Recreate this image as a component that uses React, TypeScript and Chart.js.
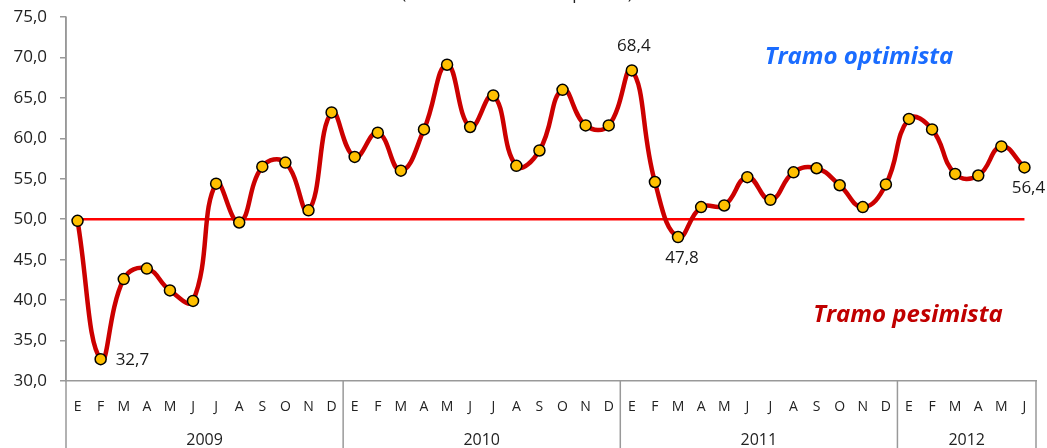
import React, { useEffect, useRef } from "react";
import { Chart, registerables } from "chart.js";

Chart.register(...registerables);

const months = ["E", "F", "M", "A", "M", "J", "J", "A", "S", "O", "N", "D"];
const years = ["2009", "2010", "2011", "2012"];
const monthsPerYear = [12, 12, 12, 6];

const values2009 = [49.8, 32.7, 42.6, 43.9, 41.2, 39.9, 54.4, 49.6, 56.5, 57.0, 51.1, 63.2];
const values2010 = [57.7, 60.7, 56.0, 61.1, 69.1, 61.4, 65.3, 56.6, 58.5, 66.0, 61.6, 61.6];
const values2011 = [68.4, 54.6, 47.8, 51.5, 51.7, 55.2, 52.4, 55.8, 56.3, 54.2, 51.5, 54.3];
const values2012 = [62.4, 61.1, 55.6, 55.4, 59.0, 56.4];

const threshold = 50;
const yMin = 30;
const yMax = 75;
const yStep = 5;

const labeledIndices = [1, 24, 26, 41];
const labeledSides = ["right", "top", "bottom", "bottom"];

const titleText = "(valores del índice en puntos)";
const optimistText = "Tramo optimista";
const pessimistText = "Tramo pesimista";

const FONT = "'Open Sans', sans-serif";

const categoryLabels: string[] = [];
monthsPerYear.forEach((n) => {
  for (let i = 0; i < n; i++) categoryLabels.push(months[i]);
});
const seriesValues = [...values2009, ...values2010, ...values2011, ...values2012];
const thresholdValues = seriesValues.map(() => threshold);

const fmt = (v: number) => v.toFixed(1).replace(".", ",");

const decorPlugin = {
  id: "decor",
  afterDraw(chart: any) {
    const ctx = chart.ctx;
    const area = chart.chartArea;
    const xs = chart.scales.x;
    const ys = chart.scales.y;
    const H = chart.height;
    ctx.save();
    ctx.strokeStyle = "#999999";
    ctx.lineWidth = 1.5;
    const bounds: number[] = [area.left];
    let idx = 0;
    monthsPerYear.forEach((n, i) => {
      idx += n;
      if (i < monthsPerYear.length - 1) {
        bounds.push((xs.getPixelForValue(idx - 1) + xs.getPixelForValue(idx)) / 2);
      }
    });
    bounds.push(area.right);
    bounds.forEach((bx, i) => {
      ctx.beginPath();
      ctx.moveTo(bx, i === 0 ? area.top : area.bottom);
      ctx.lineTo(bx, H);
      ctx.stroke();
    });
    ctx.fillStyle = "#222222";
    ctx.font = `16px ${FONT}`;
    ctx.textAlign = "center";
    ctx.textBaseline = "middle";
    years.forEach((y, i) => {
      ctx.fillText(y, (bounds[i] + bounds[i + 1]) / 2, 440);
    });
    ctx.font = `17px ${FONT}`;
    ctx.textBaseline = "alphabetic";
    ctx.fillText(titleText, 517, -1);
    ctx.fillStyle = "#1a1a1a";
    labeledIndices.forEach((i, k) => {
      const px = xs.getPixelForValue(i);
      const py = ys.getPixelForValue(seriesValues[i]);
      const side = labeledSides[k];
      const t = fmt(seriesValues[i]);
      ctx.textBaseline = "middle";
      if (side === "right") {
        ctx.textAlign = "left";
        ctx.fillText(t, px + 15, py + 1);
      } else if (side === "top") {
        ctx.textAlign = "center";
        ctx.fillText(t, px + 2, py - 24);
      } else {
        ctx.textAlign = "center";
        ctx.fillText(t, px + 4, py + 21);
      }
    });
    ctx.font = `italic bold 24px ${FONT}`;
    ctx.textAlign = "center";
    ctx.textBaseline = "middle";
    ctx.fillStyle = "#1a6cff";
    ctx.fillText(optimistText, 859, 57);
    ctx.fillStyle = "#c00000";
    ctx.fillText(pessimistText, 908, 315);
    ctx.restore();
  },
};

export default function App() {
  const ref = useRef<HTMLCanvasElement | null>(null);
  useEffect(() => {
    document.body.style.margin = "0";
    if (!ref.current) return;
    const chart = new Chart(ref.current, {
      type: "line",
      data: {
        labels: categoryLabels,
        datasets: [
          {
            data: seriesValues,
            borderColor: "#cc0000",
            borderWidth: 4.5,
            tension: 0.45,
            pointRadius: 5.5,
            pointBackgroundColor: "#ffc000",
            pointBorderColor: "#000000",
            pointBorderWidth: 1.5,
            order: 0,
          },
          {
            data: thresholdValues,
            borderColor: "#ff0000",
            borderWidth: 2.5,
            pointRadius: 0,
            tension: 0,
            order: 1,
          },
        ],
      },
      options: {
        animation: false,
        responsive: false,
        maintainAspectRatio: false,
        layout: { padding: { top: 17, right: 11, left: 0, bottom: 0 } },
        plugins: {
          legend: { display: false },
          tooltip: { enabled: false },
          title: { display: false },
        },
        scales: {
          x: {
            type: "category",
            offset: true,
            grid: { display: false, drawTicks: false },
            border: { display: true, color: "#999999", width: 1.5 },
            ticks: {
              autoSkip: false,
              maxRotation: 0,
              minRotation: 0,
              padding: 18,
              color: "#222222",
              font: { family: FONT, size: 14 },
            },
            afterFit: (s: any) => {
              s.height = 67;
              s.paddingLeft = 0;
              s.paddingRight = 0;
            },
          },
          y: {
            min: yMin,
            max: yMax,
            ticks: {
              stepSize: yStep,
              padding: 13,
              color: "#222222",
              font: { family: FONT, size: 17 },
              callback: (v: any) => fmt(Number(v)),
            },
            grid: {
              display: true,
              drawOnChartArea: false,
              drawTicks: true,
              tickLength: 6,
              color: "#999999",
              lineWidth: 1.5,
            },
            border: { display: true, color: "#999999", width: 1.5 },
            afterFit: (s: any) => {
              s.width = 66;
              s.paddingTop = 0;
              s.paddingBottom = 0;
            },
          },
        },
      },
      plugins: [decorPlugin],
    });
    return () => chart.destroy();
  }, []);
  return (
    <div style={{ width: 1047, height: 448 }}>
      <canvas ref={ref} width={1047} height={448} style={{ display: "block" }} />
    </div>
  );
}
